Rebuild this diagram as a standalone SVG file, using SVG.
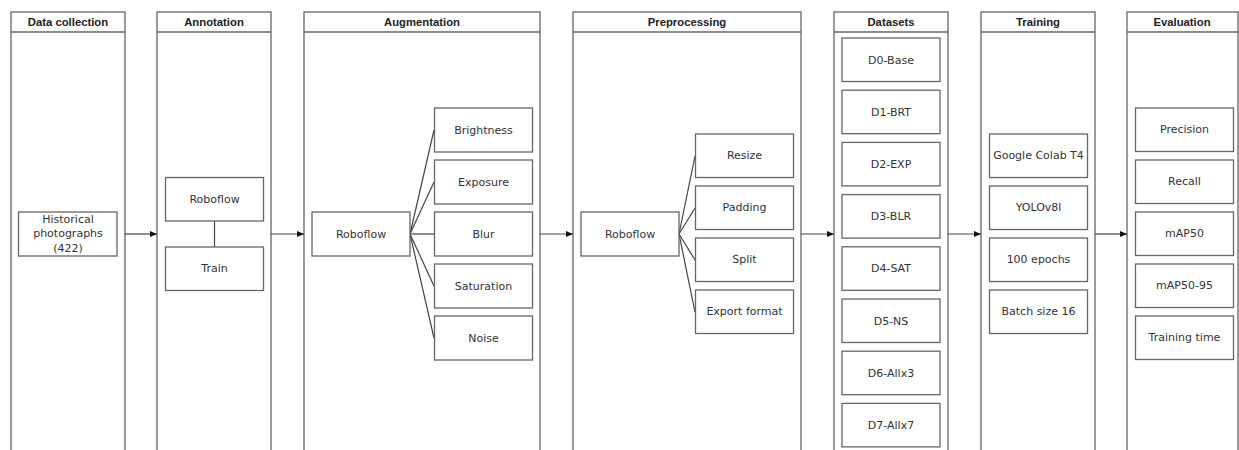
<svg xmlns="http://www.w3.org/2000/svg" width="1239" height="450" viewBox="0 0 1239 450">
<style>
.pool{fill:#fff;stroke:#666;stroke-width:1.3}
.hd{fill:none;stroke:#666;stroke-width:1.3}
.ht{font-family:"Liberation Sans",Arial,sans-serif;font-weight:bold;font-size:11.3px;fill:#222;text-anchor:middle}
.box{fill:#fff;stroke:#666;stroke-width:1.3}
.t{font-family:"DejaVu Sans",Verdana,sans-serif;font-size:11px;fill:#333;text-anchor:middle;dominant-baseline:central}
.c{fill:none;stroke:#444;stroke-width:1.2}
</style>
<defs>
<marker id="ah" markerWidth="8" markerHeight="8" refX="7" refY="4" orient="auto" markerUnits="userSpaceOnUse">
<path d="M0,1 L7,4 L0,7 Z" fill="#111"/>
</marker>
</defs>
<rect width="1239" height="450" fill="#fff"/>

<g id="pool-data-collection">
<rect class="pool" x="11" y="12" width="114" height="450"/>
<line class="hd" x1="11" y1="32" x2="125" y2="32"/>
<text class="ht" x="68" y="26">Data collection</text>
</g>
<g id="pool-annotation">
<rect class="pool" x="157" y="12" width="114" height="450"/>
<line class="hd" x1="157" y1="32" x2="271" y2="32"/>
<text class="ht" x="214" y="26">Annotation</text>
</g>
<g id="pool-augmentation">
<rect class="pool" x="304" y="12" width="236" height="450"/>
<line class="hd" x1="304" y1="32" x2="540" y2="32"/>
<text class="ht" x="422" y="26">Augmentation</text>
</g>
<g id="pool-preprocessing">
<rect class="pool" x="573" y="12" width="228" height="450"/>
<line class="hd" x1="573" y1="32" x2="801" y2="32"/>
<text class="ht" x="687" y="26">Preprocessing</text>
</g>
<g id="pool-datasets">
<rect class="pool" x="834" y="12" width="114" height="450"/>
<line class="hd" x1="834" y1="32" x2="948" y2="32"/>
<text class="ht" x="891" y="26">Datasets</text>
</g>
<g id="pool-training">
<rect class="pool" x="981" y="12" width="114" height="450"/>
<line class="hd" x1="981" y1="32" x2="1095" y2="32"/>
<text class="ht" x="1038" y="26">Training</text>
</g>
<g id="pool-evaluation">
<rect class="pool" x="1127" y="12" width="111" height="450"/>
<line class="hd" x1="1127" y1="32" x2="1238" y2="32"/>
<text class="ht" x="1182" y="26">Evaluation</text>
</g>

<g id="connectors">
<line class="c" x1="125" y1="234" x2="157" y2="234" marker-end="url(#ah)"/>
<line class="c" x1="271" y1="234" x2="304" y2="234" marker-end="url(#ah)"/>
<line class="c" x1="540" y1="234" x2="573" y2="234" marker-end="url(#ah)"/>
<line class="c" x1="801" y1="234" x2="834" y2="234" marker-end="url(#ah)"/>
<line class="c" x1="948" y1="234" x2="981" y2="234" marker-end="url(#ah)"/>
<line class="c" x1="1095" y1="234" x2="1127" y2="234" marker-end="url(#ah)"/>
<line class="c" x1="214.5" y1="221" x2="214.5" y2="247"/>
<line class="c" x1="410" y1="234" x2="434" y2="130"/>
<line class="c" x1="410" y1="234" x2="434" y2="182"/>
<line class="c" x1="410" y1="234" x2="434" y2="234"/>
<line class="c" x1="410" y1="234" x2="434" y2="286"/>
<line class="c" x1="410" y1="234" x2="434" y2="338"/>
<line class="c" x1="679" y1="234" x2="695" y2="156"/>
<line class="c" x1="679" y1="234" x2="695" y2="208"/>
<line class="c" x1="679" y1="234" x2="695" y2="260"/>
<line class="c" x1="679" y1="234" x2="695" y2="312"/>
</g>

<g id="node-historical">
<rect class="box" x="18.5" y="212" width="98.5" height="44"/>
<text class="t" x="68" y="219.5">Historical</text>
<text class="t" x="68" y="233.5">photographs</text>
<text class="t" x="68" y="248">(422)</text>
</g>

<g id="node-ann-roboflow"><rect class="box" x="165.5" y="177.5" width="98" height="43.5"/><text class="t" x="214.5" y="199">Roboflow</text></g>
<g id="node-ann-train"><rect class="box" x="165.5" y="247" width="98" height="43.5"/><text class="t" x="214.5" y="268.5">Train</text></g>

<g id="node-aug-roboflow"><rect class="box" x="312" y="212" width="98" height="44"/><text class="t" x="361" y="234">Roboflow</text></g>
<g id="node-brightness"><rect class="box" x="434.5" y="108" width="98" height="44"/><text class="t" x="483.5" y="130">Brightness</text></g>
<g id="node-exposure"><rect class="box" x="434.5" y="160" width="98" height="44"/><text class="t" x="483.5" y="182">Exposure</text></g>
<g id="node-blur"><rect class="box" x="434.5" y="212" width="98" height="44"/><text class="t" x="483.5" y="234">Blur</text></g>
<g id="node-saturation"><rect class="box" x="434.5" y="264" width="98" height="44"/><text class="t" x="483.5" y="286">Saturation</text></g>
<g id="node-noise"><rect class="box" x="434.5" y="316" width="98" height="44"/><text class="t" x="483.5" y="338">Noise</text></g>

<g id="node-pre-roboflow"><rect class="box" x="581" y="212" width="98" height="44"/><text class="t" x="630" y="234">Roboflow</text></g>
<g id="node-resize"><rect class="box" x="695.5" y="134" width="98" height="43.5"/><text class="t" x="744.5" y="155.5">Resize</text></g>
<g id="node-padding"><rect class="box" x="695.5" y="186" width="98" height="43.5"/><text class="t" x="744.5" y="207.5">Padding</text></g>
<g id="node-split"><rect class="box" x="695.5" y="238" width="98" height="43.5"/><text class="t" x="744.5" y="259.5">Split</text></g>
<g id="node-export"><rect class="box" x="695.5" y="290" width="98" height="43.5"/><text class="t" x="744.5" y="311.5">Export format</text></g>

<g id="node-d0"><rect class="box" x="842" y="38" width="98" height="43.5"/><text class="t" x="891" y="60">D0-Base</text></g>
<g id="node-d1"><rect class="box" x="842" y="90.2" width="98" height="43.5"/><text class="t" x="891" y="112">D1-BRT</text></g>
<g id="node-d2"><rect class="box" x="842" y="142.4" width="98" height="43.5"/><text class="t" x="891" y="164">D2-EXP</text></g>
<g id="node-d3"><rect class="box" x="842" y="194.6" width="98" height="43.5"/><text class="t" x="891" y="216.5">D3-BLR</text></g>
<g id="node-d4"><rect class="box" x="842" y="246.8" width="98" height="43.5"/><text class="t" x="891" y="268.5">D4-SAT</text></g>
<g id="node-d5"><rect class="box" x="842" y="299" width="98" height="43.5"/><text class="t" x="891" y="321">D5-NS</text></g>
<g id="node-d6"><rect class="box" x="842" y="351.2" width="98" height="43.5"/><text class="t" x="891" y="373">D6-Allx3</text></g>
<g id="node-d7"><rect class="box" x="842" y="403.4" width="98" height="43.5"/><text class="t" x="891" y="425">D7-Allx7</text></g>

<g id="node-colab"><rect class="box" x="989.5" y="134" width="98" height="43.5"/><text class="t" x="1038.5" y="155.5">Google Colab T4</text></g>
<g id="node-yolo"><rect class="box" x="989.5" y="186" width="98" height="43.5"/><text class="t" x="1038.5" y="207.5">YOLOv8l</text></g>
<g id="node-epochs"><rect class="box" x="989.5" y="238" width="98" height="43.5"/><text class="t" x="1038.5" y="259.5">100 epochs</text></g>
<g id="node-batch"><rect class="box" x="989.5" y="290" width="98" height="43.5"/><text class="t" x="1038.5" y="311.5">Batch size 16</text></g>

<g id="node-precision"><rect class="box" x="1135.5" y="108" width="98" height="43.5"/><text class="t" x="1184.5" y="129.5">Precision</text></g>
<g id="node-recall"><rect class="box" x="1135.5" y="160" width="98" height="43.5"/><text class="t" x="1184.5" y="181.5">Recall</text></g>
<g id="node-map50"><rect class="box" x="1135.5" y="212" width="98" height="43.5"/><text class="t" x="1184.5" y="233.5">mAP50</text></g>
<g id="node-map5095"><rect class="box" x="1135.5" y="264" width="98" height="43.5"/><text class="t" x="1184.5" y="285.5">mAP50-95</text></g>
<g id="node-time"><rect class="box" x="1135.5" y="316" width="98" height="43.5"/><text class="t" x="1184.5" y="337.5">Training time</text></g>
</svg>
